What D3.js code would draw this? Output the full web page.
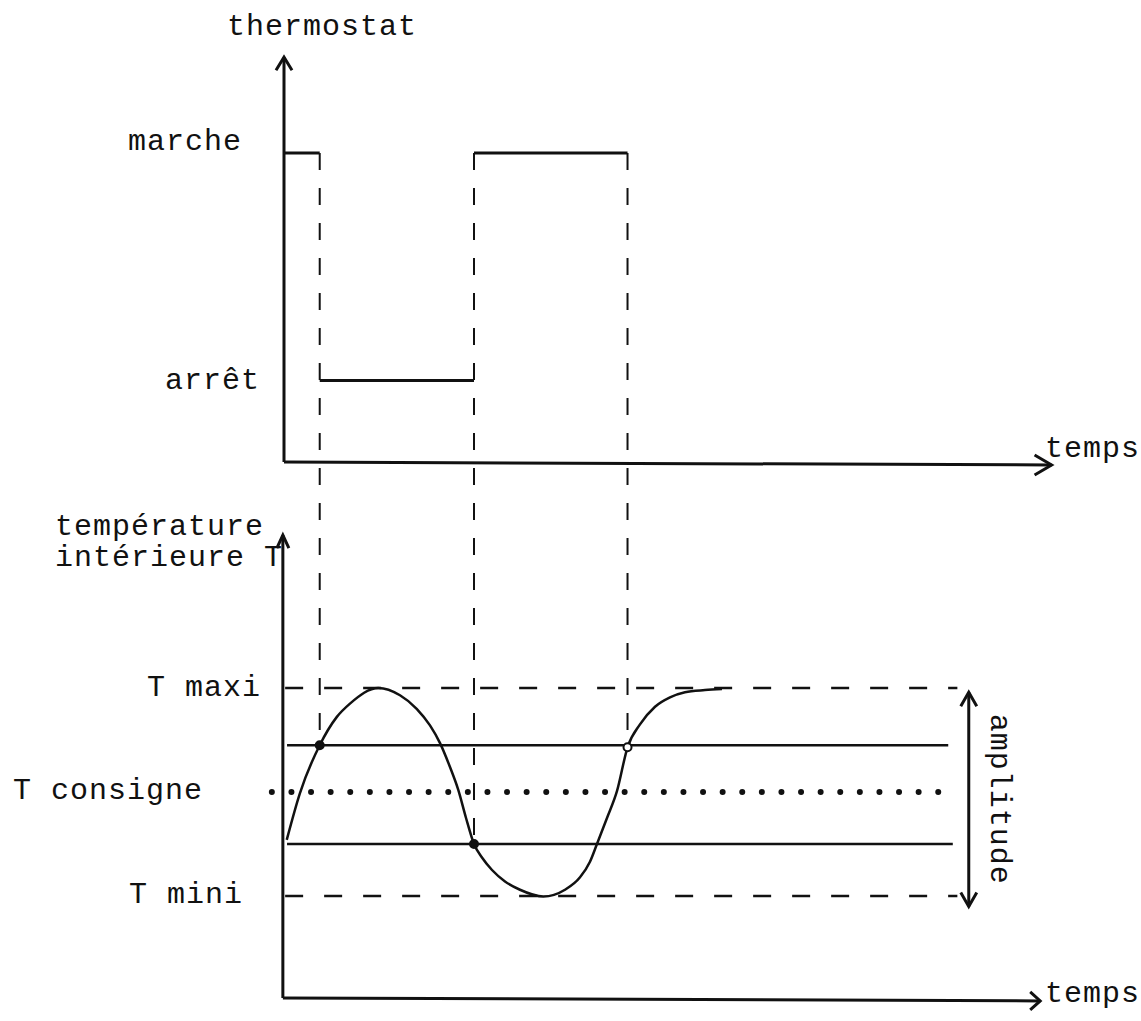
<!DOCTYPE html>
<html>
<head>
<meta charset="utf-8">
<script src="https://cdn.jsdelivr.net/npm/d3@7"></script>
<style>
  body { margin: 0; background: #fff; }
  text { font-family: "Liberation Mono", "Courier New", monospace; font-size: 30px; letter-spacing: 1px; fill: #111; }
</style>
</head>
<body>
<div id="chart"></div>
<script>
// thermostat (upper chart)
const etats = ['arrêt', 'marche']
const etatValeurs = [0.264, 1]
const bascules = [0, 4.7, 25.0, 45.2]          // switching times
const basculeEtats = ['marche', 'arrêt', 'marche']

// température intérieure (lower chart)
const niveaux = ['T maxi', 'T consigne', 'T mini']
const niveauValeurs = [21, 20, 19]
const seuils = [20.45, 19.5]                   // upper / lower threshold
const courbeTemps = [0.36, 2.1, 4.7, 6.93, 8.68, 12.41, 15.26, 17.46, 19.21, 20.53, 21.84, 22.93, 23.95, 25.0,
    26.05, 27.37, 29.08, 31.05, 34.12, 36.97, 38.95, 40.26, 41.18, 42.5, 43.82, 45.2,
    46.84, 48.82, 50.79, 52.76, 55.39, 57.63]
const courbeT = [19.54, 19.99, 20.45, 20.72, 20.85, 21.0, 20.93, 20.8, 20.64, 20.47, 20.24, 20.02, 19.75, 19.5,
    19.37, 19.25, 19.14, 19.06, 18.995, 19.06, 19.18, 19.33, 19.5, 19.75, 20.01, 20.43,
    20.65, 20.82, 20.91, 20.96, 20.98, 20.99]
const marques = [2, 13, 25]                    // indexes of the marked crossings
const marquesPleines = [true, true, false]

const width = 1141
const height = 1021

const svg = d3.select('#chart')
    .append('svg')
    .attr('width', width)
    .attr('height', height)

const x = d3.scaleLinear().domain([0, 100]).range([284, 1044])
const yHaut = d3.scaleLinear().domain([0, 1]).range([462, 153])
const yBas = d3.scaleLinear().domain([19, 21]).range([896, 688])

const ink = '#111'

// open chevron arrow head
const fleche = (g, tx, ty, dx, dy, l, w) => {
    const px = -dy, py = dx
    g.append('path')
        .attr('d', `M${tx - dx * l + px * w},${ty - dy * l + py * w}L${tx},${ty}L${tx - dx * l - px * w},${ty - dy * l - py * w}`)
        .attr('fill', 'none')
        .attr('stroke', ink)
        .attr('stroke-width', 3)
        .attr('stroke-linejoin', 'miter')
}

// ---------- upper chart: thermostat ----------
const haut = svg.append('g').attr('id', 'thermostat')

haut.append('line')
    .attr('x1', x(0)).attr('y1', yHaut(0))
    .attr('x2', x(0)).attr('y2', yHaut(1.31))
    .attr('stroke', ink).attr('stroke-width', 3)
fleche(haut, x(0), yHaut(1.31), 0, -1, 13, 8)

haut.append('line')
    .attr('x1', x(0)).attr('y1', yHaut(0))
    .attr('x2', x(101)).attr('y2', yHaut(0) + 3)
    .attr('stroke', ink).attr('stroke-width', 3)
fleche(haut, x(101), yHaut(0) + 3, 1, 0, 17, 10)

// state segments
basculeEtats.forEach((e, i) => {
    const v = etatValeurs[etats.indexOf(e)]
    haut.append('line')
        .attr('x1', x(bascules[i])).attr('y1', yHaut(v))
        .attr('x2', x(bascules[i + 1])).attr('y2', yHaut(v))
        .attr('stroke', ink).attr('stroke-width', 3)
})

haut.append('text').attr('x', 227).attr('y', 35).text('thermostat')
haut.append('text').attr('x', 128).attr('y', yHaut(1) - 3).text('marche')
haut.append('text').attr('x', 165).attr('y', yHaut(etatValeurs[0]) + 9).text('arrêt')
haut.append('text').attr('x', 1045).attr('y', 457).text('temps')

// ---------- dashed verticals linking both charts ----------
marques.forEach((idx, i) => {
    svg.append('line')
        .attr('x1', x(bascules[i + 1])).attr('y1', yHaut(1))
        .attr('x2', x(bascules[i + 1])).attr('y2', yBas(courbeT[idx]))
        .attr('stroke', ink).attr('stroke-width', 2)
        .attr('stroke-dasharray', '17,18')
})

// ---------- lower chart: température intérieure ----------
const bas = svg.append('g').attr('id', 'temperature')

bas.append('line')
    .attr('x1', x(-0.15)).attr('y1', yBas(18.02))
    .attr('x2', x(-0.15)).attr('y2', yBas(22.47))
    .attr('stroke', ink).attr('stroke-width', 3)
fleche(bas, x(-0.15), yBas(22.47), 0, -1, 13, 6)

bas.append('line')
    .attr('x1', x(-0.15)).attr('y1', yBas(18.02))
    .attr('x2', x(99.5)).attr('y2', yBas(18.02) + 3)
    .attr('stroke', ink).attr('stroke-width', 3)
fleche(bas, x(99.5), yBas(18.02) + 3, 1, 0, 10, 9)

// T maxi / T mini dashed
;[0, 2].forEach(i => {
    bas.append('line')
        .attr('x1', x(0.15)).attr('y1', yBas(niveauValeurs[i]))
        .attr('x2', x(88.6)).attr('y2', yBas(niveauValeurs[i]))
        .attr('stroke', ink).attr('stroke-width', 2.5)
        .attr('stroke-dasharray', '18,21')
})

// T consigne dotted
bas.append('line')
    .attr('x1', x(-1.6)).attr('y1', yBas(niveauValeurs[1]))
    .attr('x2', x(88.5)).attr('y2', yBas(niveauValeurs[1]))
    .attr('stroke', ink).attr('stroke-width', 6)
    .attr('stroke-linecap', 'round')
    .attr('stroke-dasharray', '0,19.6')

// thresholds
seuils.forEach((s, i) => {
    bas.append('line')
        .attr('x1', x(0.4)).attr('y1', yBas(s))
        .attr('x2', x(i == 0 ? 87.4 : 88)).attr('y2', yBas(s))
        .attr('stroke', ink).attr('stroke-width', 2.5)
})

// temperature curve
const courbe = d3.line()
    .x(d => x(d[0]))
    .y(d => yBas(d[1]))
    .curve(d3.curveMonotoneX)
bas.append('path')
    .datum(courbeTemps.map((t, i) => [t, courbeT[i]]))
    .attr('d', courbe)
    .attr('fill', 'none')
    .attr('stroke', ink)
    .attr('stroke-width', 2.5)

marques.forEach((idx, i) => {
    bas.append('circle')
        .attr('cx', x(courbeTemps[idx]))
        .attr('cy', yBas(courbeT[idx]))
        .attr('r', 4)
        .attr('fill', marquesPleines[i] ? ink : '#fff')
        .attr('stroke', ink)
        .attr('stroke-width', 2)
})

// amplitude double arrow
const xAmp = x(90.1)
bas.append('line')
    .attr('x1', xAmp).attr('y1', yBas(20.96))
    .attr('x2', xAmp).attr('y2', yBas(18.9))
    .attr('stroke', ink).attr('stroke-width', 3)
fleche(bas, xAmp, yBas(20.96), 0, -1, 14, 8)
fleche(bas, xAmp, yBas(18.9), 0, 1, 14, 8)
bas.append('text')
    .attr('transform', `translate(${xAmp + 30},${(yBas(20.96) + yBas(18.9)) / 2}) rotate(90)`)
    .attr('text-anchor', 'middle')
    .attr('dominant-baseline', 'central')
    .text('amplitude')

// labels
bas.append('text').attr('x', 55).attr('y', 535).text('température')
bas.append('text').attr('x', 55).attr('y', 566).text('intérieure T')
bas.append('text').attr('x', 147).attr('y', yBas(niveauValeurs[0]) + 8).text(niveaux[0])
bas.append('text').attr('x', 13).attr('y', yBas(niveauValeurs[1]) + 7).text(niveaux[1])
bas.append('text').attr('x', 129).attr('y', yBas(niveauValeurs[2]) + 7).text(niveaux[2])
bas.append('text').attr('x', 1045).attr('y', 1002).text('temps')
</script>
</body>
</html>
